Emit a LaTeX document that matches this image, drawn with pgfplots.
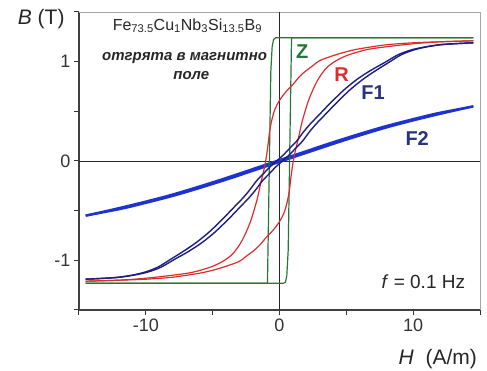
\documentclass[border=0pt]{standalone}
\usepackage{fontspec}
\setmainfont{Liberation Sans}
\usepackage{pgfplots}
\pgfplotsset{compat=1.18}
\definecolor{zgreen}{RGB}{35,120,55}
\definecolor{rred}{RGB}{220,45,45}
\definecolor{fnavy}{RGB}{30,30,130}
\definecolor{fblue}{RGB}{30,50,210}
\definecolor{lbl}{RGB}{40,50,125}
\begin{document}
\begin{tikzpicture}
\useasboundingbox (-79pt,-61pt) rectangle (408pt,310pt);
\begin{axis}[
  scale only axis, width=401pt, height=298pt,
  xmin=-15,xmax=15,ymin=-1.5,ymax=1.5,
  axis x line*=bottom, axis y line*=left,
  xtick={-10,0,10}, minor xtick={-15,-5,5,15},
  ytick={-1,0,1}, minor ytick={-1.5,-0.5,0.5,1.5},
  tick align=outside, major tick length=5pt, minor tick length=5pt,
  every tick/.style={black!80, line width=1pt},
  every minor tick/.style={black!80, line width=1pt},
  axis line style={black!75, line width=1.2pt},
  ticklabel style={font=\fontsize{18}{20}\selectfont, text=black!80},
  /pgf/number format/assume math mode=true,
  clip=false,
]
\draw[black!35, line width=0.8pt] (rel axis cs:0,1) -- (rel axis cs:1,1) -- (rel axis cs:1,0);
\draw[black!85, line width=0.9pt] (axis cs:-15,0) -- (axis cs:15,0);
\draw[black!85, line width=0.9pt] (axis cs:0,-1.5) -- (axis cs:0,1.5);

% F2
\addplot[fblue, line width=2.3pt, smooth] coordinates {
(14.5,0.55) (11.8,0.48) (9.8,0.415) (7.8,0.345) (5.8,0.265) (3.8,0.18) (1.8,0.09) (-0.2,0) (-2.2,-0.09) (-4.2,-0.18) (-6.2,-0.265) (-8.2,-0.345) (-10.2,-0.415) (-12.2,-0.48) (-14.5,-0.55)};
\addplot[fblue, line width=2.3pt, smooth] coordinates {
(-14.5,-0.55) (-11.8,-0.48) (-9.8,-0.415) (-7.8,-0.345) (-5.8,-0.265) (-3.8,-0.18) (-1.8,-0.09) (0.2,0) (2.2,0.09) (4.2,0.18) (6.2,0.265) (8.2,0.345) (10.2,0.415) (12.2,0.48) (14.5,0.55)};

% Z
\addplot[zgreen, line width=1.2pt] coordinates {
(14.5,1.24) (-0.3,1.24) (-0.45,1.22) (-0.55,1.15) (-0.65,0.9) (-0.9,-1.23) (-14.5,-1.23)};
\addplot[zgreen, line width=1.2pt] coordinates {
(-14.5,-1.23) (0.3,-1.23) (0.45,-1.22) (0.55,-1.15) (0.65,-0.9) (0.9,1.24) (14.5,1.24)};

% R
\addplot[rred, line width=1.2pt, smooth, tension=0.5] coordinates {
(14.5,1.21) (12,1.20) (10,1.19) (8,1.17) (6,1.13) (5,1.10) (4,1.06) (3,1.01) (2.5,0.96) (2,0.91) (1.5,0.85) (1,0.77) (0.5,0.70) (0,0.61) (-0.4,0.50) (-0.7,0.33) (-0.9,0.12) (-1.1,-0.05) (-1.4,-0.22) (-1.7,-0.40) (-2.2,-0.62) (-2.8,-0.80) (-3.4,-0.92) (-4,-0.99) (-5,-1.06) (-6.5,-1.12) (-8,-1.15) (-10,-1.18) (-12,-1.20) (-14.5,-1.21)};
\addplot[rred, line width=1.2pt, smooth, tension=0.5] coordinates {
(-14.5,-1.21) (-12,-1.20) (-10,-1.19) (-8,-1.17) (-6,-1.13) (-5,-1.10) (-4,-1.06) (-3,-1.01) (-2.5,-0.96) (-2,-0.91) (-1.5,-0.85) (-1,-0.77) (-0.5,-0.70) (0,-0.61) (0.4,-0.50) (0.7,-0.33) (0.9,-0.12) (1.1,0.05) (1.4,0.22) (1.7,0.40) (2.2,0.62) (2.8,0.80) (3.4,0.92) (4,0.99) (5,1.06) (6.5,1.12) (8,1.15) (10,1.18) (12,1.20) (14.5,1.21)};

% F1
\addplot[fnavy, line width=1.4pt, smooth] coordinates {
(14.5,1.19) (12.95,1.18) (11.95,1.17) (10.95,1.15) (9.9,1.12) (8.88,1.07) (7.85,0.99) (6.8,0.91) (5.78,0.82) (4.78,0.71) (3.78,0.58) (3.28,0.51) (2.78,0.44) (2.28,0.37) (1.78,0.29) (1.28,0.20) (0.78,0.13) (0.28,0.06) (-0.22,0) (-0.72,-0.06) (-1.22,-0.13) (-1.72,-0.20) (-2.22,-0.29) (-2.72,-0.37) (-3.22,-0.44) (-3.72,-0.51) (-4.22,-0.58) (-5.22,-0.71) (-6.22,-0.82) (-7.2,-0.91) (-8.15,-0.99) (-9.12,-1.07) (-10.1,-1.12) (-11.05,-1.15) (-12.05,-1.17) (-13.05,-1.18) (-14.5,-1.19)};
\addplot[fnavy, line width=1.4pt, smooth] coordinates {
(-14.5,-1.19) (-12.95,-1.18) (-11.95,-1.17) (-10.95,-1.15) (-9.9,-1.12) (-8.88,-1.07) (-7.85,-0.99) (-6.8,-0.91) (-5.78,-0.82) (-4.78,-0.71) (-3.78,-0.58) (-3.28,-0.51) (-2.78,-0.44) (-2.28,-0.37) (-1.78,-0.29) (-1.28,-0.20) (-0.78,-0.13) (-0.28,-0.06) (0.22,0) (0.72,0.06) (1.22,0.13) (1.72,0.20) (2.22,0.29) (2.72,0.37) (3.22,0.44) (3.72,0.51) (4.22,0.58) (5.22,0.71) (6.22,0.82) (7.2,0.91) (8.15,0.99) (9.12,1.07) (10.1,1.12) (11.05,1.15) (12.05,1.17) (13.05,1.18) (14.5,1.19)};

% labels
\node[font=\bfseries\fontsize{20}{22}\selectfont, text=zgreen] at (axis cs:1.7,1.10) {Z};
\node[font=\bfseries\fontsize{20}{22}\selectfont, text=rred] at (axis cs:4.65,0.87) {R};
\node[font=\bfseries\fontsize{20}{22}\selectfont, text=lbl] at (axis cs:7.0,0.69) {F1};
\node[font=\bfseries\fontsize{20}{22}\selectfont, text=lbl] at (axis cs:10.3,0.23) {F2};
\node[anchor=east, font=\fontsize{19}{21}\selectfont, text=black!85] at (axis cs:14.15,-1.22) {\textit{f} = 0.1 Hz};
\node[font=\fontsize{16}{18}\selectfont, text=black!85] at (axis cs:-6.89,1.36) {Fe\textsubscript{73.5}Cu\textsubscript{1}Nb\textsubscript{3}Si\textsubscript{13.5}B\textsubscript{9}};
\node[font=\bfseries\itshape\fontsize{15}{17}\selectfont, text=black!85] at (axis cs:-7.1,1.035) {отгрята в магнитно};
\node[font=\bfseries\itshape\fontsize{15}{17}\selectfont, text=black!85] at (axis cs:-6.6,0.86) {поле};
\node[font=\fontsize{21}{23}\selectfont, text=black!85] at (axis cs:-17.83,1.431) {\textit{B} (T)};
\node[font=\fontsize{21}{23}\selectfont, text=black!85] at (axis cs:11.84,-1.99) {\textit{H}~ (A/m)};
\end{axis}
\end{tikzpicture}
\end{document}
